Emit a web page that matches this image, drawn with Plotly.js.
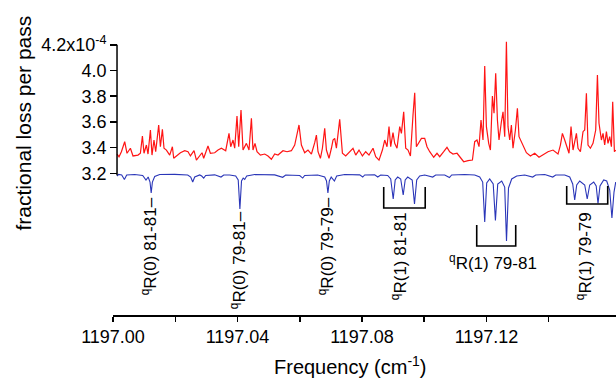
<!DOCTYPE html>
<html><head><meta charset="utf-8">
<script src="https://cdn.plot.ly/plotly-3.0.1.min.js"></script>
<style>html,body{margin:0;padding:0;background:#fff;}#chart{width:616px;height:379px;}</style>
</head><body><div id="chart"></div>
<script>
// Measured spectrum (fractional loss per pass, units of 1e-4)
const redFreq = [1197.00129,1197.00193,1197.00270,1197.00376,1197.00450,1197.00559,1197.00643,1197.00803,1197.00880,1197.00945,1197.00996,1197.01073,1197.01125,1197.01202,1197.01253,1197.01317,1197.01372,1197.01414,1197.01468,1197.01523,1197.01587,1197.01639,1197.01716,1197.01822,1197.01908,1197.01950,1197.02056,1197.02166,1197.02304,1197.02410,1197.02487,1197.02603,1197.02680,1197.02786,1197.02860,1197.02914,1197.02978,1197.03052,1197.03129,1197.03268,1197.03374,1197.03483,1197.03621,1197.03727,1197.03782,1197.03856,1197.03910,1197.03984,1197.04039,1197.04113,1197.04177,1197.04286,1197.04370,1197.04447,1197.04498,1197.04562,1197.04627,1197.04736,1197.04874,1197.04980,1197.05089,1197.05195,1197.05301,1197.05462,1197.05591,1197.05732,1197.05838,1197.05976,1197.06053,1197.06159,1197.06265,1197.06375,1197.06481,1197.06535,1197.06587,1197.06664,1197.06728,1197.06802,1197.06857,1197.06940,1197.07017,1197.07069,1197.07123,1197.07178,1197.07284,1197.07371,1197.07477,1197.07583,1197.07711,1197.07798,1197.07904,1197.08013,1197.08119,1197.08225,1197.08354,1197.08441,1197.08547,1197.08656,1197.08730,1197.08804,1197.08868,1197.08923,1197.08996,1197.09051,1197.09125,1197.09212,1197.09266,1197.09340,1197.09405,1197.09479,1197.09556,1197.09639,1197.09694,1197.09748,1197.09832,1197.09909,1197.10015,1197.10089,1197.10176,1197.10304,1197.10410,1197.10497,1197.10625,1197.10731,1197.10818,1197.10924,1197.11053,1197.11140,1197.11268,1197.11406,1197.11548,1197.11621,1197.11695,1197.11760,1197.11824,1197.11888,1197.11943,1197.11997,1197.12071,1197.12126,1197.12190,1197.12242,1197.12296,1197.12351,1197.12402,1197.12479,1197.12531,1197.12586,1197.12640,1197.12691,1197.12746,1197.12800,1197.12852,1197.12929,1197.12993,1197.13045,1197.13122,1197.13196,1197.13282,1197.13411,1197.13549,1197.13687,1197.13816,1197.13976,1197.14137,1197.14298,1197.14375,1197.14439,1197.14513,1197.14587,1197.14651,1197.14716,1197.14780,1197.14889,1197.14941,1197.15018,1197.15101,1197.15156,1197.15210,1197.15262,1197.15339,1197.15422,1197.15509,1197.15564,1197.15615,1197.15692,1197.15744,1197.15798,1197.15853,1197.15904,1197.15959,1197.16014,1197.16055,1197.16110,1197.16152];
const redLoss = [3.350,3.329,3.368,3.446,3.356,3.395,3.335,3.342,3.356,3.490,3.356,3.420,3.350,3.537,3.342,3.459,3.368,3.459,3.576,3.407,3.542,3.395,3.381,3.342,3.407,3.317,3.342,3.360,3.376,3.368,3.335,3.376,3.303,3.342,3.360,3.317,3.356,3.412,3.356,3.360,3.381,3.395,3.376,3.511,3.407,3.459,3.395,3.646,3.407,3.692,3.381,3.433,3.381,3.628,3.381,3.433,3.368,3.342,3.350,3.335,3.309,3.350,3.342,3.376,3.368,3.376,3.420,3.576,3.420,3.360,3.381,3.350,3.438,3.498,3.368,3.317,3.395,3.550,3.381,3.317,3.395,3.459,3.472,3.395,3.620,3.356,3.335,3.360,3.395,3.342,3.381,3.335,3.368,3.342,3.395,3.329,3.303,3.381,3.459,3.407,3.563,3.407,3.516,3.433,3.395,3.563,3.511,3.679,3.395,3.381,3.335,3.654,3.827,3.407,3.446,3.472,3.472,3.407,3.368,3.325,3.356,3.329,3.368,3.402,3.368,3.350,3.356,3.329,3.290,3.298,3.303,3.446,3.459,3.407,3.615,3.459,4.035,3.563,3.433,3.381,3.801,3.667,3.978,3.615,3.459,3.601,3.679,3.485,4.224,3.563,3.459,3.576,3.395,3.537,3.706,3.485,3.446,3.407,3.360,3.335,3.356,3.325,3.342,3.368,3.381,3.350,3.420,3.511,3.459,3.395,3.356,3.563,3.381,3.511,3.395,3.368,3.524,3.537,3.822,3.420,3.395,3.433,3.537,3.965,3.589,3.459,3.511,3.420,3.524,3.433,3.485,3.407,3.757,3.368,3.381];

// Reference (simulated) spectrum, offset below
const blueFreq = [1197.00129,1197.00183,1197.00280,1197.00366,1197.00440,1197.00697,1197.00954,1197.01060,1197.01131,1197.01189,1197.01227,1197.01266,1197.01340,1197.01500,1197.01982,1197.02400,1197.02497,1197.02561,1197.02625,1197.02786,1197.02850,1197.02914,1197.02978,1197.03268,1197.03470,1197.03557,1197.03750,1197.03942,1197.04023,1197.04077,1197.04129,1197.04183,1197.04232,1197.04296,1197.04553,1197.05195,1197.05452,1197.05549,1197.05999,1197.06095,1197.06159,1197.06577,1197.06802,1197.06860,1197.06905,1197.06950,1197.07011,1197.07114,1197.07187,1197.07445,1197.07927,1197.08023,1197.08087,1197.08408,1197.08505,1197.08601,1197.08826,1197.08923,1197.09003,1197.09067,1197.09147,1197.09244,1197.09324,1197.09388,1197.09469,1197.09613,1197.09687,1197.09758,1197.09854,1197.10015,1197.10272,1197.10368,1197.10658,1197.10809,1197.10882,1197.11300,1197.11621,1197.11782,1197.11878,1197.11943,1197.12007,1197.12103,1197.12216,1197.12287,1197.12361,1197.12489,1197.12585,1197.12643,1197.12707,1197.12810,1197.12971,1197.13228,1197.13485,1197.13581,1197.13871,1197.14128,1197.14224,1197.14513,1197.14674,1197.14770,1197.14834,1197.14899,1197.14995,1197.15156,1197.15236,1197.15316,1197.15445,1197.15525,1197.15583,1197.15647,1197.15766,1197.15863,1197.15959,1197.16030,1197.16097,1197.16152];
const blueLoss = [3.179,3.191,3.187,3.152,3.187,3.191,3.183,3.148,3.171,3.132,3.047,3.132,3.175,3.191,3.192,3.187,3.171,3.132,3.171,3.187,3.179,3.163,3.183,3.188,3.171,3.187,3.187,3.179,3.148,2.922,3.140,3.163,3.152,3.179,3.191,3.188,3.169,3.187,3.183,3.163,3.183,3.187,3.171,3.140,3.047,3.140,3.171,3.140,3.179,3.191,3.188,3.171,3.187,3.188,3.171,3.187,3.183,3.156,3.000,3.148,3.171,3.156,3.031,3.148,3.171,3.148,2.961,3.148,3.179,3.187,3.171,3.187,3.187,3.167,3.187,3.191,3.187,3.171,3.132,2.821,3.125,3.156,3.117,2.833,3.117,3.140,3.093,2.673,3.086,3.156,3.179,3.187,3.171,3.187,3.191,3.171,3.187,3.187,3.171,3.117,2.992,3.109,3.140,3.109,3.000,3.109,3.132,3.101,2.965,3.101,3.148,3.140,3.070,2.852,3.054,3.132];

const xTickVals = [1197.00,1197.02,1197.04,1197.06,1197.08,1197.10,1197.12,1197.14];
const xTickText = ['1197.00','','1197.04','','1197.08','','1197.12',''];
const yTickVals = [3.2,3.4,3.6,3.8,4.0,4.2];
const yTickText = ['3.2','3.4','3.6','3.8','4.0','4.2x10<sup>-4</sup>'];

const labelText = ['<sup>q</sup>R(0) 81-81–','<sup>q</sup>R(0) 79-81–','<sup>q</sup>R(0) 79-79–','<sup>q</sup>R(1) 81-81','<sup>q</sup>R(1) 79-81','<sup>q</sup>R(1) 79-79'];

const FONT = 'Liberation Sans, Arial, Helvetica, sans-serif';

const traces = [
  {x: redFreq, y: redLoss, type: 'scatter', mode: 'lines', line: {color: '#ff1414', width: 1.2}, hoverinfo: 'skip'},
  {x: blueFreq, y: blueLoss, type: 'scatter', mode: 'lines', line: {color: '#2a36b8', width: 1.1}, hoverinfo: 'skip'}
];

const labelPos = [
  {x: 1197.01147, y: 2.630, a: -90},
  {x: 1197.04006, y: 2.521, a: -90},
  {x: 1197.06834, y: 2.630, a: -90},
  {x: 1197.09212, y: 2.553, a: -90},
  {x: 1197.12216, y: 2.510, a: 0},
  {x: 1197.15156, y: 2.553, a: -90}
];
const annotations = labelText.map((t, i) => ({
  text: t, x: labelPos[i].x, y: labelPos[i].y, xref: 'x', yref: 'y',
  textangle: labelPos[i].a, showarrow: false, xanchor: 'center', yanchor: 'middle',
  font: {family: FONT, size: 17, color: '#000'}
}));
annotations.push({text: 'Frequency (cm<sup>-1</sup>)', xref: 'paper', yref: 'paper', x: 0.473, y: -0.182,
  showarrow: false, xanchor: 'center', yanchor: 'middle', font: {family: FONT, size: 20, color: '#000'}});
annotations.push({text: 'fractional loss per pass', xref: 'paper', yref: 'paper', x: -0.177, y: 0.6875,
  textangle: -90, showarrow: false, xanchor: 'center', yanchor: 'middle', font: {family: FONT, size: 21, color: '#000'}});

function bracket(x0, x1, yTop, yBot) {
  return {type: 'path', xref: 'x', yref: 'y',
    path: `M ${x0},${yTop} L ${x0},${yBot} L ${x1},${yBot} L ${x1},${yTop}`,
    line: {color: '#000', width: 1.6}};
}
const shapes = [
  bracket(1197.08698, 1197.10031, 3.093, 2.930),
  bracket(1197.11686, 1197.12939, 2.798, 2.634),
  bracket(1197.14577, 1197.15895, 3.101, 2.961),
  {type: 'line', xref: 'x', yref: 'y', x0: 1197.00129, x1: 1197.00129, y0: 3.185, y1: 4.2, line: {color: '#000', width: 1.5}}
];

const layout = {
  width: 616, height: 379,
  margin: {l: 113, r: 0, t: 35, b: 64},
  paper_bgcolor: '#fff', plot_bgcolor: '#fff',
  showlegend: false,
  font: {family: FONT, color: '#000'},
  xaxis: {range: [1197.0, 1197.16161], showline: true, linecolor: '#000', linewidth: 1.5,
    ticks: 'outside', ticklen: 5, tickwidth: 1.5, tickcolor: '#000',
    tickvals: xTickVals, ticktext: xTickText, showgrid: false, zeroline: false,
    tickfont: {family: FONT, size: 18, color: '#000'}},
  yaxis: {range: [2.0973, 4.2763], anchor: 'free', position: 0.008, showline: false,
    ticks: 'outside', ticklen: 7, tickwidth: 1.5, tickcolor: '#000',
    tickvals: yTickVals, ticktext: yTickText, showgrid: false, zeroline: false,
    tickfont: {family: FONT, size: 18, color: '#000'}},
  annotations: annotations,
  shapes: shapes
};

Plotly.newPlot('chart', traces, layout, {displayModeBar: false, staticPlot: true});
</script>
</body></html>
